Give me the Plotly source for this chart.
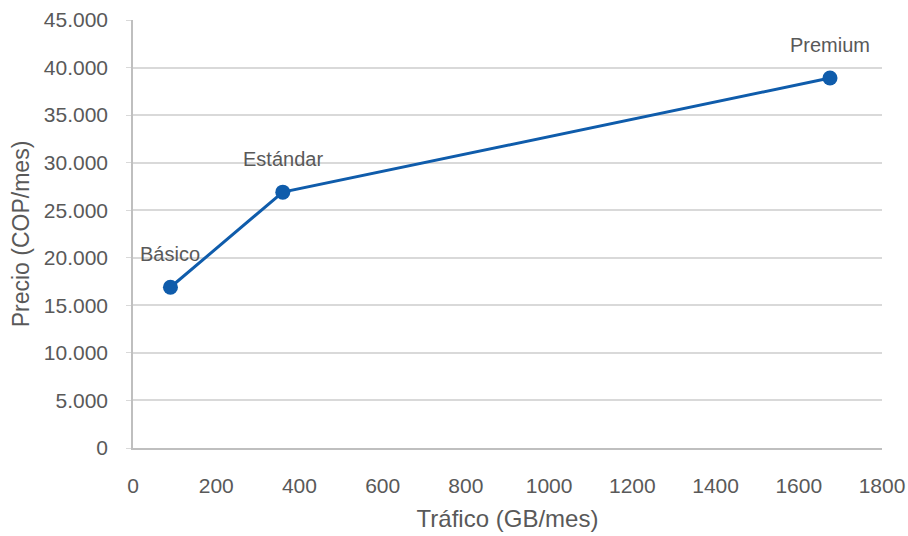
import plotly.graph_objects as go

planes = ["Básico", "Estándar", "Premium"]
trafico = [90, 360, 1675]
precio = [16900, 26900, 38900]

FONT = "Liberation Sans"
GREY = "#595959"
BLUE = "#0F5CAB"

fig = go.Figure()
fig.add_trace(go.Scatter(
    x=trafico, y=precio, mode="lines+markers",
    line=dict(color=BLUE, width=3),
    marker=dict(color=BLUE, size=15),
    hoverinfo="x+y", showlegend=False,
))

for name, xv, yv in zip(planes, trafico, precio):
    fig.add_annotation(x=xv, y=yv, text=name, showarrow=False, yshift=33,
                       font=dict(family=FONT, size=20, color=GREY))

fig.update_layout(
    width=908, height=536,
    margin=dict(l=133, r=26, t=20, b=88),
    paper_bgcolor="white", plot_bgcolor="white",
    separators=",.",
    font=dict(family=FONT, color=GREY, size=20),
)
fig.update_xaxes(
    range=[0, 1800], dtick=200, tickformat="d", automargin=False,
    showgrid=False, zeroline=False,
    showline=True, linecolor="#BFBFBF", linewidth=1.5,
    ticks="", ticklabelstandoff=18, tickfont=dict(size=21, color=GREY),
    title=dict(text="Tráfico (GB/mes)", font=dict(size=24, color=GREY), standoff=14),
)
fig.update_yaxes(
    range=[0, 45000], dtick=5000, tickformat=",.0f", automargin=False,
    showgrid=True, gridcolor="#D9D9D9", gridwidth=1.5,
    zeroline=False,
    showline=True, linecolor="#BFBFBF", linewidth=1.5,
    ticks="outside", ticklen=5, tickcolor="#D9D9D9", ticklabelstandoff=14,
    tickfont=dict(size=21, color=GREY),
    title=dict(text="Precio (COP/mes)", font=dict(size=23, color=GREY), standoff=8),
)

fig.write_html("out.html")
